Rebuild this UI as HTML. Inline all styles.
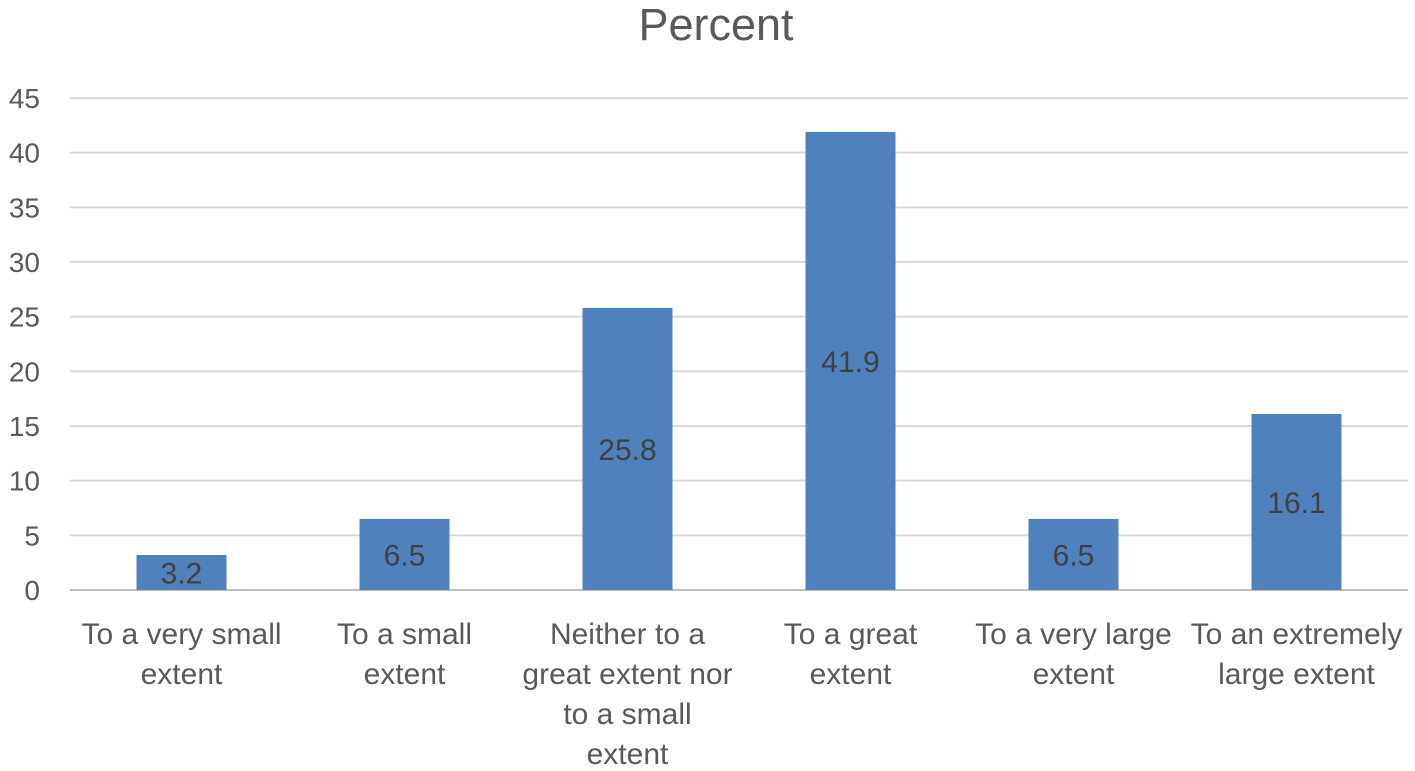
<!DOCTYPE html>
<html><head><meta charset="utf-8"><style>
html,body{margin:0;padding:0;background:#fff;}
svg{display:block;font-family:"Liberation Sans",sans-serif;}
</style></head><body>
<svg id="chart" width="1415" height="771"></svg>
<script>
const categories = [["To a very small","extent"],["To a small","extent"],["Neither to a","great extent nor","to a small","extent"],["To a great","extent"],["To a very large","extent"],["To an extremely","large extent"]];
const values = [3.2, 6.5, 25.8, 41.9, 6.5, 16.1];
const valueLabels = ["3.2","6.5","25.8","41.9","6.5","16.1"];
const yTicks = [0,5,10,15,20,25,30,35,40,45];

const NS="http://www.w3.org/2000/svg";
const svg=document.getElementById('chart');
const x0=70, x1=1408, y0=590, yTop=98, yMax=45;
const band=(x1-x0)/categories.length;
const yScale=v=>y0-(v/yMax)*(y0-yTop);
const xCenter=i=>x0+band*(i+0.5);
function mk(tag,attrs,text){const e=document.createElementNS(NS,tag);for(const k in attrs)e.setAttribute(k,attrs[k]);if(text!==undefined)e.textContent=text;svg.appendChild(e);return e;}

const title=mk('text',{x:716,y:40,'text-anchor':'middle','font-size':45,fill:'#595959'},'Percent');



yTicks.forEach(t=>{
  const y=yScale(t);
  const g=mk('line',{x1:x0,x2:x1,y1:y,y2:y,stroke:t===0?'#bfbfbf':'#d9d9d9','stroke-width':2});
  
  
  const l=mk('text',{x:40,y:y+10,'text-anchor':'end','font-size':28,fill:'#595959'},String(t));
  
  
});

const bw=90;
values.forEach((v,i)=>{
  const cx=xCenter(i), yt=yScale(v);
  const r=mk('rect',{x:cx-bw/2,y:yt,width:bw,height:y0-yt,fill:'#4f81bd'});
  
  
  const vl=mk('text',{x:cx,y:(yt+y0)/2+11,'text-anchor':'middle','font-size':30,fill:'#404040'},valueLabels[i]);
  
  
  const cl=mk('text',{x:cx,y:644,'text-anchor':'middle','font-size':30,fill:'#595959'});
  
  
  categories[i].forEach((line,j)=>{
    const ts=document.createElementNS(NS,'tspan');
    ts.setAttribute('x',cx);ts.setAttribute('dy',j===0?0:40);
    ts.textContent=line;cl.appendChild(ts);
  });
});
</script>
</body></html>
